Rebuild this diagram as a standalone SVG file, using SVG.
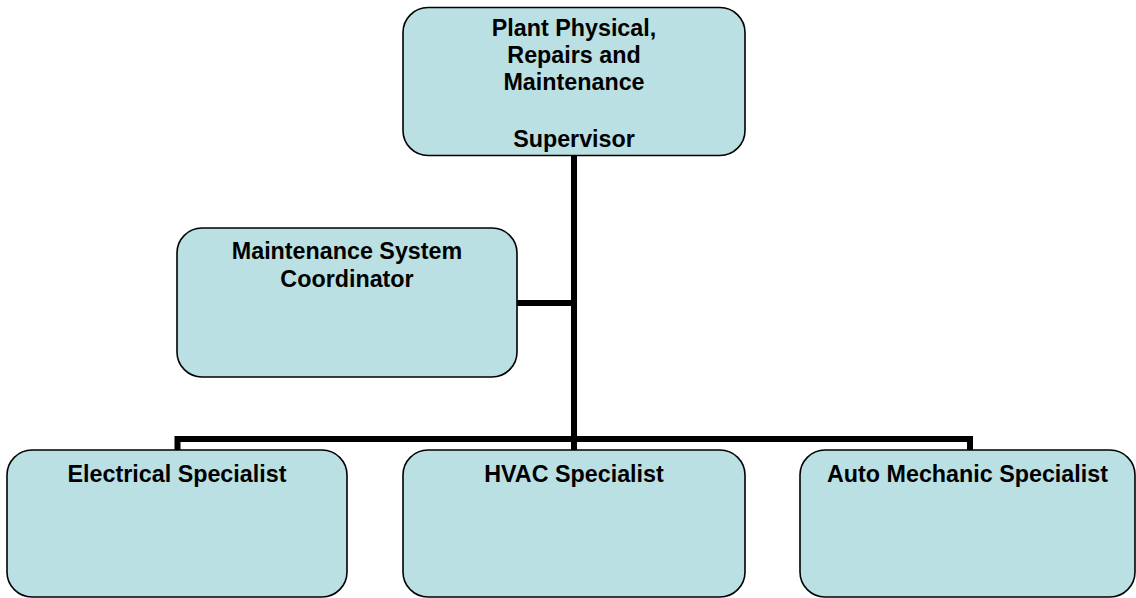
<svg xmlns="http://www.w3.org/2000/svg" width="1136" height="598" viewBox="0 0 1136 598">
  <style>
    .box { fill: #BAE0E3; stroke: #000; stroke-width: 1.6; }
    .lbl { font-family: "Liberation Sans", Arial, sans-serif; font-weight: bold; font-size: 23.3px; fill: #000; text-anchor: middle; }
    .conn { fill: none; stroke: #000; stroke-width: 6; stroke-linejoin: miter; stroke-linecap: butt; }
  </style>
  <rect width="1136" height="598" fill="#fff"/>

  <!-- reporting lines -->
  <g id="connectors">
    <line class="conn" x1="574" y1="155" x2="574" y2="442"/>
    <line class="conn" x1="517" y1="303" x2="574" y2="303"/>
    <polyline class="conn" points="177.5,450 177.5,439 970,439 970,450"/>
    <line class="conn" x1="574" y1="439" x2="574" y2="450"/>
  </g>

  <g id="supervisor">
    <rect class="box" x="403" y="7.5" width="342" height="148" rx="25" ry="25"/>
    <text class="lbl" x="574" y="36">Plant Physical,</text>
    <text class="lbl" x="574" y="63">Repairs and</text>
    <text class="lbl" x="574" y="90">Maintenance</text>
    <text class="lbl" x="574" y="147">Supervisor</text>
  </g>

  <g id="coordinator">
    <rect class="box" x="177" y="228" width="340" height="149" rx="25" ry="25"/>
    <text class="lbl" x="347" y="259">Maintenance System</text>
    <text class="lbl" x="347" y="287">Coordinator</text>
  </g>

  <g id="electrical">
    <rect class="box" x="7" y="450" width="340" height="147" rx="25" ry="25"/>
    <text class="lbl" x="177" y="482">Electrical Specialist</text>
  </g>

  <g id="hvac">
    <rect class="box" x="403" y="450" width="342" height="147" rx="25" ry="25"/>
    <text class="lbl" x="574" y="482">HVAC Specialist</text>
  </g>

  <g id="auto-mechanic">
    <rect class="box" x="800" y="450" width="335" height="147" rx="25" ry="25"/>
    <text class="lbl" x="967.5" y="482">Auto Mechanic Specialist</text>
  </g>
</svg>
